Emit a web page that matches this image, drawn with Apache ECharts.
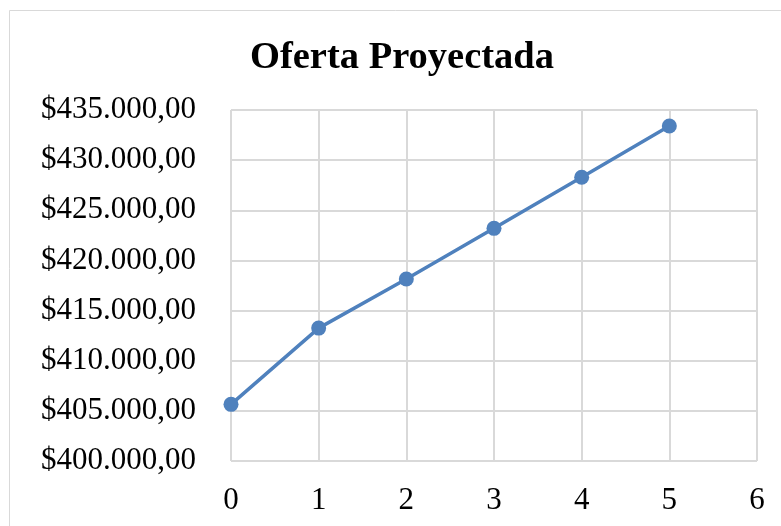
<!DOCTYPE html>
<html>
<head>
<meta charset="utf-8">
<script src="https://cdn.jsdelivr.net/npm/echarts@6/dist/echarts.min.js"></script>
<style>
  html, body { margin: 0; padding: 0; background: #fff; }
  #chart { width: 781px; height: 526px; }
</style>
</head>
<body>
<div id="chart"></div>
<script>
// datos
var periodos = [0, 1, 2, 3, 4, 5];
var oferta = [405650, 413250, 418150, 423200, 428300, 433400];

var puntos = [];
for (var i = 0; i < periodos.length; i++) {
    puntos.push([periodos[i], oferta[i]]);
}

function formatoPesos(v) {
    var s = Math.round(v).toString().replace(/\B(?=(\d{3})+(?!\d))/g, '.');
    return '$' + s + ',00';
}

var myChart = echarts.init(document.getElementById('chart'));
var option = {
    backgroundColor: '#fff',
    animation: false,
    title: {
        text: 'Oferta Proyectada',
        left: 245,
        top: 34,
        textStyle: {
            fontFamily: 'Liberation Serif',
            fontWeight: 'bold',
            fontSize: 38.5,
            color: '#000'
        }
    },
    grid: {
        left: 231,
        right: 24,
        top: 110,
        bottom: 65,
        containLabel: false
    },
    xAxis: {
        type: 'value',
        min: 0,
        max: 6,
        interval: 1,
        axisLine: { show: false },
        axisTick: { show: false },
        splitLine: { show: true, lineStyle: { color: '#d9d9d9', width: 2 } },
        axisLabel: {
            margin: 24,
            fontFamily: 'Liberation Serif',
            fontSize: 31,
            color: '#000'
        }
    },
    yAxis: {
        type: 'value',
        min: 400000,
        max: 435000,
        interval: 5000,
        axisLine: { show: false },
        axisTick: { show: false },
        splitLine: { show: true, lineStyle: { color: '#d9d9d9', width: 2 } },
        axisLabel: {
            margin: 35,
            fontFamily: 'Liberation Serif',
            fontSize: 31,
            color: '#000',
            formatter: formatoPesos
        }
    },
    series: [{
        type: 'line',
        data: puntos,
        symbol: 'circle',
        symbolSize: 15,
        lineStyle: { color: '#4f81bd', width: 3.5 },
        itemStyle: { color: '#4f81bd' }
    }],
    graphic: [{
        type: 'rect',
        shape: { x: 9.5, y: 10.5, width: 800, height: 600 },
        style: { fill: 'none', stroke: '#d9d9d9', lineWidth: 1 },
        silent: true
    }]
};
myChart.setOption(option);
</script>
</body>
</html>
